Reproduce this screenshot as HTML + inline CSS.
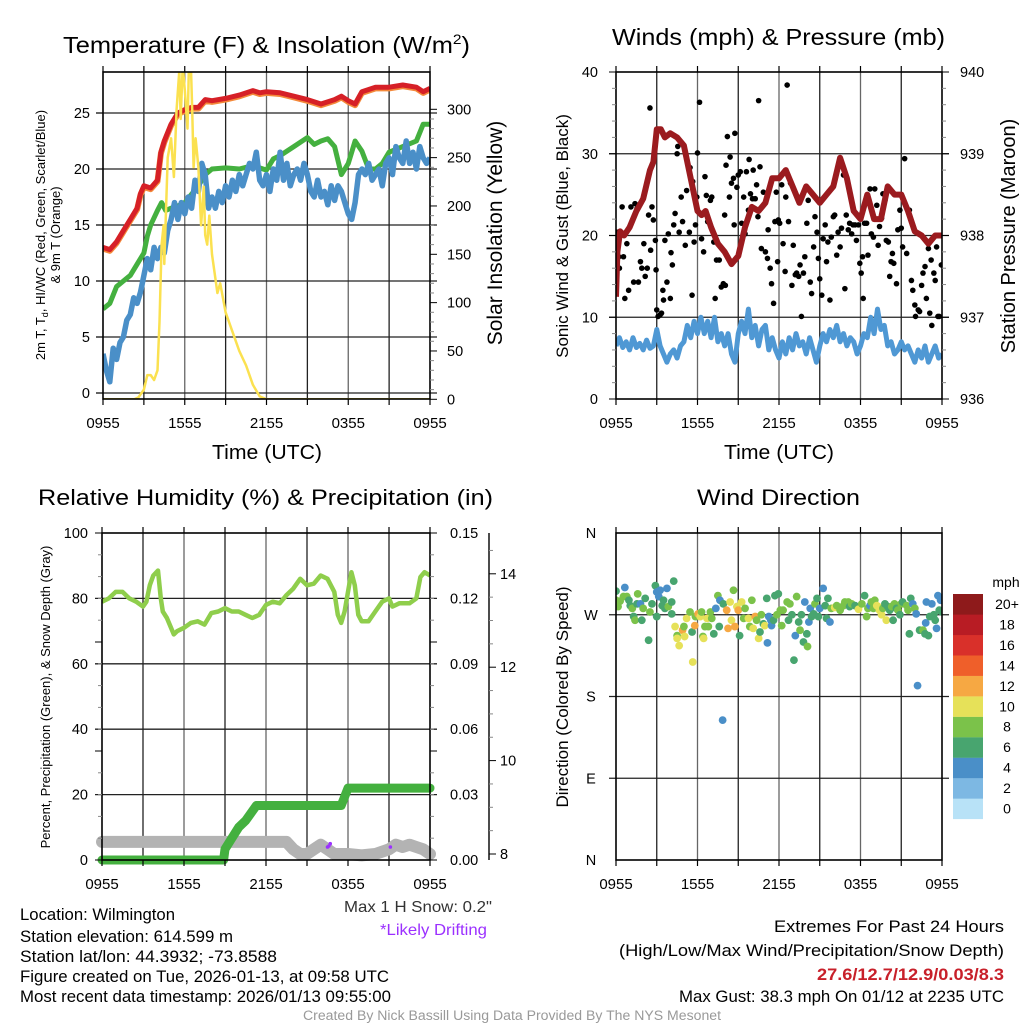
<!DOCTYPE html>
<html><head><meta charset="utf-8"><style>
html,body{margin:0;padding:0;background:#fff;width:1024px;height:1024px;overflow:hidden}
svg{display:block;font-family:"Liberation Sans",Arial,sans-serif}
</style></head><body>
<svg id="root" width="1024" height="1024" viewBox="0 0 1024 1024">
<defs>
<clipPath id="c1"><rect x="103" y="72" width="327" height="327"/></clipPath>
<clipPath id="c2"><rect x="616" y="72" width="326" height="327"/></clipPath>
<clipPath id="c3"><rect x="102" y="533" width="328" height="327"/></clipPath>
<clipPath id="c4"><rect x="616" y="533" width="326" height="327"/></clipPath>
</defs>
<g id="g1"></g>
<g id="g2"></g>
<g id="g3"></g>
<g id="g4"></g>
<g id="txt">
<text x="63" y="53" font-size="23" textLength="407" lengthAdjust="spacingAndGlyphs">Temperature (F) &amp; Insolation (W/m<tspan dy="-9" font-size="14">2</tspan><tspan dy="9">)</tspan></text>
<text x="612" y="45" font-size="23" textLength="333" lengthAdjust="spacingAndGlyphs">Winds (mph) &amp; Pressure (mb)</text>
<text x="38" y="505" font-size="22" textLength="455" lengthAdjust="spacingAndGlyphs">Relative Humidity (%) &amp; Precipitation (in)</text>
<text x="697" y="505" font-size="22" textLength="163" lengthAdjust="spacingAndGlyphs">Wind Direction</text>
<text x="212" y="459" font-size="20" textLength="110" lengthAdjust="spacingAndGlyphs">Time (UTC)</text>
<text x="724" y="459" font-size="20" textLength="110" lengthAdjust="spacingAndGlyphs">Time (UTC)</text>
<text transform="translate(45,235) rotate(-90)" font-size="13" text-anchor="middle">2m T, T<tspan font-size="9" dy="3">d</tspan><tspan dy="-3">, HI/WC (Red, Green, Scarlet/Blue)</tspan></text>
<text transform="translate(60,235) rotate(-90)" font-size="13" text-anchor="middle">&amp; 9m T (Orange)</text>
<text transform="translate(502,233) rotate(-90)" font-size="21" text-anchor="middle">Solar Insolation (Yellow)</text>
<text transform="translate(568,236) rotate(-90)" font-size="17" text-anchor="middle">Sonic Wind &amp; Gust (Blue, Black)</text>
<text transform="translate(1015,236) rotate(-90)" font-size="20" text-anchor="middle">Station Pressure (Maroon)</text>
<text transform="translate(50,697) rotate(-90)" font-size="13" text-anchor="middle">Percent, Precipitation (Green), &amp; Snow Depth (Gray)</text>
<text transform="translate(568,697) rotate(-90)" font-size="17" text-anchor="middle">Direction (Colored By Speed)</text>
<text x="1006" y="587" font-size="14" text-anchor="middle">mph</text>
<text x="344" y="912" font-size="16" fill="#333" textLength="148" lengthAdjust="spacingAndGlyphs">Max 1 H Snow: 0.2"</text>
<text x="380" y="935" font-size="16" fill="#9b30ff" textLength="107" lengthAdjust="spacingAndGlyphs">*Likely Drifting</text>
<g font-size="16.5">
<text x="20" y="920" textLength="155" lengthAdjust="spacingAndGlyphs">Location: Wilmington</text>
<text x="20" y="942" textLength="213" lengthAdjust="spacingAndGlyphs">Station elevation: 614.599 m</text>
<text x="20" y="962" textLength="257" lengthAdjust="spacingAndGlyphs">Station lat/lon: 44.3932; -73.8588</text>
<text x="20" y="982" textLength="369" lengthAdjust="spacingAndGlyphs">Figure created on Tue, 2026-01-13, at 09:58 UTC</text>
<text x="20" y="1002" textLength="371" lengthAdjust="spacingAndGlyphs">Most recent data timestamp: 2026/01/13 09:55:00</text>
</g>
<g font-size="17">
<text x="774" y="932" textLength="230" lengthAdjust="spacingAndGlyphs">Extremes For Past 24 Hours</text>
<text x="619" y="956" textLength="385" lengthAdjust="spacingAndGlyphs">(High/Low/Max Wind/Precipitation/Snow Depth)</text>
<text x="817" y="980" fill="#c8202a" font-weight="bold" textLength="187" lengthAdjust="spacingAndGlyphs">27.6/12.7/12.9/0.03/8.3</text>
<text x="679" y="1002" textLength="325" lengthAdjust="spacingAndGlyphs">Max Gust: 38.3 mph On 01/12 at 2235 UTC</text>
</g>
<text x="303" y="1020" font-size="13.5" fill="#999" textLength="418" lengthAdjust="spacingAndGlyphs">Created By Nick Bassill Using Data Provided By The NYS Mesonet</text>
</g>
</svg>
<script>
// ===== DATA =====
const xTickLabels = ["0955","1555","2155","0355","0955"];
const tempTickLabels = [0,5,10,15,20,25];
const solarTickLabels = [0,50,100,150,200,250,300];
const tempHours = [0,0.5,1,1.5,2,2.5,2.75,3,3.5,4,4.25,4.5,5,5.5,6,6.5,7,7.5,8,9,10,11,11.5,12,13,14,15,16,17,17.5,18,18.5,19,20,21,22,23,23.5,24];
const tempValues = [13,12.8,13.5,14.5,15.5,16.5,17.8,18.5,18.3,19,21.5,22.5,24,25,25.3,25.5,25.5,26.2,26.1,26.3,26.6,27.0,26.8,26.9,26.8,26.5,26.2,25.8,26.2,26.5,26.1,25.8,26.9,27.3,27.3,27.5,27.3,26.9,27.2];
const dewHours = [0,0.5,1,1.5,2,2.5,3,3.25,3.5,4,4.3,4.6,5,5.5,6,7,7.5,8,9,10,11,12,12.5,13,14,15,15.5,16,16.5,17,17.5,18,18.5,19,19.5,20,20.5,21,22,23,23.5,24];
const dewValues = [7.5,8,9.5,10,10.5,11.5,12.5,14,15,16.3,17,16.3,16.5,16.7,17,18.5,19.5,20,20.1,20,20.3,19.9,20.9,21.2,22,22.8,22.2,22.5,22.7,22,19.5,20.5,22.5,21.6,20,20,20.5,21.5,22,22.5,24,24];
const chillValues = [3.5,2,1,4,3,4.5,5,6.5,7,8.5,8,9,10.5,12,11,13,12,13,12.5,14.5,15.5,17,15.5,17,16,17.5,16.5,19,18,20.5,19.5,16.5,17.5,16.5,18,17,18.5,17.5,19,18,19.5,18.5,19.5,20.5,20,21.5,19,18.5,19.5,18,20,19,21.5,19,20.5,18.5,19.5,20,19,20.5,19.5,18,17.5,19,17.5,18,16.8,18.5,17.2,18.5,18,17,16,15.5,17,19.5,20,19.5,20.5,19,19.5,20,18.5,20.5,21,19.5,22,21,20.5,22.5,20.5,21.5,20,22,21,20.5,21];
const solarHours = [0,2.3,2.6,3,3.25,3.5,3.75,4,4.15,4.3,4.45,4.5,4.75,5,5.2,5.4,5.6,5.7,5.85,6,6.2,6.3,6.45,6.55,6.65,6.8,7,7.2,7.4,7.5,7.65,7.8,8,8.2,8.4,8.6,9,9.5,10,10.5,11,11.5,12,24];
const solarValues = [0,0,2,10,25,25,20,30,80,160,180,140,250,270,230,300,340,290,345,320,280,340,345,300,240,270,240,180,220,170,160,190,150,130,110,120,90,70,50,35,15,3,0,0];

const windTickLabels = [0,10,20,30,40];
const pressTickLabels = [936,937,938,939,940];
const windValues = [6.5,7.5,6.3,7,6,7.5,6.3,6.8,6,7.2,6.2,6.5,8.5,6.5,5.5,4.5,5.5,6,5,6.5,7,9,7.5,9.5,8,10,8,9.5,7.5,10,7,8,6.5,8,5.5,4.5,8,9.5,8,11,7.5,9,6.5,8.5,9,6,7.5,6,5,7,5.5,7.5,6,8,6.5,7,5.5,7.5,6,4.5,6.5,8,7,8.5,7.5,9,7,8,6.5,7.5,7,5.5,6.5,8,7.5,10,8,11,8.5,9,6.5,7,5.5,6,7,6,6.5,5.5,4.5,6,5,6.5,4.5,5.5,6.5,5,5.5];
const pressHours = [0,0.1,0.3,0.6,1,1.5,2,2.5,2.75,3,3.3,3.6,4,4.5,5,5.5,6,6.3,6.6,7,7.5,8,8.5,9,9.5,10,10.5,11,11.5,12,12.5,13,13.5,14,14.5,15,15.5,16,16.5,17,17.5,18,18.5,19,19.5,20,20.5,21,21.5,22,22.5,23,23.5,24];
const pressValues = [937.25,937.8,938.05,938.0,938.1,938.3,938.45,938.8,938.9,939.3,939.3,939.2,939.25,939.2,939.1,938.7,938.3,938.25,938.3,938.1,937.9,937.8,937.65,937.75,938.1,938.35,938.3,938.4,938.7,938.7,938.8,938.6,938.4,938.6,938.5,938.4,938.5,938.6,938.95,938.7,938.3,938.2,938.5,938.2,938.2,938.6,938.5,938.5,938.3,938.05,938.0,937.9,938.0,938.0];
const gustHours = [0.07,0.2,0.25,0.45,0.55,0.65,0.8,0.93,1.1,1.3,1.4,1.55,1.65,1.8,1.9,2.05,2.15,2.3,2.4,2.5,2.65,2.75,2.55,2.9,2.95,3.0,3.1,3.25,3.35,3.45,3.5,3.6,3.75,3.85,4.0,4.05,4.15,4.25,4.35,4.5,4.55,4.65,4.8,4.9,5.1,5.2,5.4,5.45,5.6,5.65,5.75,5.85,5.95,6.0,6.15,6.3,6.45,6.55,6.65,6.75,6.95,7.05,7.2,7.3,7.4,7.6,7.75,7.9,8.05,8.0,8.1,8.2,8.35,8.4,8.5,8.65,8.7,8.75,8.9,9.0,9.15,9.25,9.4,9.5,9.6,9.75,9.8,9.9,10.05,10.1,10.25,10.35,10.45,10.5,10.6,10.7,10.85,11.0,11.15,11.2,11.35,11.45,11.6,11.7,11.8,11.9,11.95,12.05,12.2,12.3,12.45,12.5,12.6,12.7,12.85,12.95,13.05,13.2,13.3,13.45,13.55,13.65,13.8,13.9,14.05,14.15,14.3,14.4,14.55,14.65,14.8,14.9,15.0,15.15,15.25,15.4,15.5,15.6,15.75,15.85,16.0,16.1,16.25,16.35,16.5,16.6,16.75,16.85,16.95,17.1,17.2,17.35,17.45,17.6,17.7,17.85,17.95,18.05,18.15,18.2,18.3,18.45,18.55,18.7,18.8,18.95,19.05,19.2,19.3,19.4,19.55,19.65,19.8,19.9,20.05,20.15,20.25,20.35,20.45,20.65,20.75,20.9,21.0,21.1,21.25,21.4,21.5,21.6,21.75,21.85,22.0,22.05,22.25,22.35,22.5,22.6,22.75,22.85,23.0,23.1,23.2,23.25,23.4,23.5,23.6,23.7,23.8,23.95];
const gustValues = [20.4,17.4,16,23.5,17.4,12.3,19,13.3,23.5,14.3,23.9,23.3,14.3,16.8,16,19,15,16,22.5,35.6,23.5,21.9,18.2,19.4,15.8,10.9,10.1,10.3,10.5,13.3,12.1,19.4,14.3,20.2,12.3,17.9,16.4,21.3,22.7,30,30.9,20.4,24.7,21.7,18.8,25.5,20.4,28.3,12.7,26.6,19.2,21.3,24.7,30.1,36.3,19.6,18,27.2,24.9,21.7,24.3,24.7,19.2,12.3,17,17,13.7,14.1,13.9,22.5,28.6,32.1,24.7,29.6,26.4,27,21.3,32.5,25.9,27.4,27.8,21.5,24.7,20.2,27.8,23.1,29.3,25.1,24.5,28,24.5,26.2,22.3,36.5,28.4,18.4,25.3,18,17.2,20.7,16,14.1,11.7,21.7,25.3,16.8,21.9,21.5,26.2,19,15.6,24.7,38.4,21.7,26.4,13.9,18.8,15.2,15.4,15,16.4,10.1,15.4,17.4,21.5,24.3,14.3,12.9,18.6,22.3,20.4,17.2,14.7,12.7,19.6,21.3,16.8,19.2,12.1,19.8,22.3,22.5,17.6,20.4,18.6,20.9,27.4,13.5,22.5,20.7,21.5,20.2,21.3,21.3,19.4,21.3,16.6,15.4,17.4,12.3,21.5,21.5,17.6,25.7,20.2,19.8,25.7,23.7,18.8,21.1,22.1,25.1,24.3,19.4,19.2,15,16.8,17.8,16.6,14.1,20.7,23.1,20.9,18.6,29.4,17.8,23.1,23.1,14.5,13.3,11.5,10.1,10.9,10.7,13.9,15.4,16.2,12.3,18.4,10.5,17,9,15.4,14.5,18.6,10.1,10.1,16.4];

const rhTickLabels = [0,20,40,60,80,100];
const precipTickLabels = ["0.00","0.03","0.06","0.09","0.12","0.15"];
const snowTickLabels = [8,10,12,14];
const rhHours = [0,0.5,1,1.5,2,2.5,3,3.25,3.5,3.75,4.1,4.3,4.45,4.75,5.25,5.5,6,6.5,7,7.5,8,8.5,9,9.5,10,10.5,11,11.5,12,12.5,13,13.5,14,14.5,15,15.5,16,16.5,17,17.25,17.5,17.75,18,18.25,18.5,18.75,19,19.5,20,20.5,21,21.25,21.75,22.5,23,23.3,23.6,24];
const rhValues = [79,80,82,82,80,79,77.5,79,84,87,88.5,80,76,74,69,70,71,72.5,73,72,75.5,76,77,76,76,75,74,75,78,79,78.5,81,83,86,84,84.5,87,86,82,75,72.5,76,82,88,84,75,73,73,76,79,80,77.5,78.5,78.5,80,86.5,88,87];
const precipHours = [0,8.9,9,9.5,10,10.5,11.3,17.5,18,24];
const precipValues = [0,0,0.005,0.010,0.015,0.018,0.025,0.025,0.033,0.033];
const snowHours = [0,13.5,14,14.5,15,15.5,16,16.5,17,18,19,20,21,21.5,22,22.5,23,23.5,24];
const snowValues = [8.26,8.26,8.1,8.0,8.0,8.1,8.2,8.1,8.0,8.0,7.97,8.0,8.1,8.2,8.15,8.2,8.15,8.1,8.0];
const driftHours = [16.5,16.6,16.7,21.1];
const driftValues = [8.15,8.17,8.22,8.15];

const dirTickLabels = ["N","E","S","W","N"];
const dirHours = [0,0,0.15,0.3,0.65,0.55,0.8,0.95,1.05,1.2,1.3,1.4,1.6,1.55,1.8,1.9,2.0,2.15,2.4,2.5,2.65,2.9,3.0,3.15,3.0,3.25,3.4,3.5,3.75,3.6,3.85,4.1,4.25,4.1,4.35,4.5,4.5,4.65,4.9,5.05,5.0,5.2,5.45,5.6,5.65,5.8,5.85,6.05,6.2,6.3,6.4,6.45,6.55,6.7,6.8,6.95,7.05,7.2,7.35,7.5,7.6,7.65,7.9,8.15,8.25,8.4,8.5,8.65,8.75,8.9,9.0,9.1,9.25,9.4,9.5,9.75,9.85,10.0,10.1,10.25,10.35,10.5,10.6,10.7,10.85,10.95,11.1,11.15,11.25,11.4,11.45,11.6,11.7,11.85,11.95,12.1,12.2,12.3,12.6,12.7,12.8,12.95,13.1,13.2,13.3,13.45,13.55,13.65,13.8,13.9,14.05,14.1,14.2,14.3,14.4,14.55,14.65,14.8,14.9,15.0,15.25,15.4,15.5,15.6,15.75,15.85,16.1,16.25,16.5,16.75,16.85,17.1,17.2,17.35,17.6,17.85,18.1,18.3,18.45,18.55,18.7,18.8,18.95,19.05,19.2,19.3,19.4,19.55,19.65,19.8,19.9,20.0,20.15,20.3,20.4,20.5,20.65,20.75,20.9,21.0,21.1,21.4,21.5,21.6,21.7,21.85,22.0,22.1,22.2,22.35,22.6,22.75,22.85,22.8,23.0,23.1,23.25,23.4,23.5,23.6,23.7,23.8,23.9,24.0,7.85];
const dirValues = [296,286,279,285,300,290,290,286,280,277,268,264,293,282,282,264,277,288,242,273,282,302,295,290,268,297,280,286,299,277,279,284,307,271,257,247,244,236,253,246,257,266,273,251,218,258,268,271,268,273,246,244,257,266,257,273,266,249,277,291,257,286,282,275,255,284,264,297,257,279,275,247,284,266,277,266,257,286,255,268,264,244,251,270,260,258,288,239,268,264,258,264,291,270,293,275,258,275,284,264,282,270,220,247,290,262,253,270,240,284,249,235,262,277,268,271,282,288,268,277,299,280,266,288,262,277,278,280,275,280,284,284,279,282,280,276,282,291,268,277,280,284,277,286,280,279,275,270,277,282,264,279,275,279,264,282,277,275,270,282,284,280,275,249,288,282,277,271,192,253,253,249,284,261,247,268,282,270,264,255,291,275,286,273,154];
const dirSpeeds = [6,8,8,8,4,8,8,7,6,8,6,8,8,6,4,6,8,6,6,8,6,6,4,4,6,4,6,6,4,6,8,6,6,6,10,8,10,10,12,10,8,10,8,6,10,12,8,12,10,8,8,10,8,10,8,8,8,6,4,8,6,4,6,12,12,10,10,8,12,10,12,6,10,8,8,10,8,8,10,12,8,10,6,8,6,10,6,4,4,4,4,6,6,8,6,8,8,8,8,6,8,6,6,4,8,6,8,6,6,4,6,8,4,4,6,6,8,6,6,4,4,6,6,6,4,8,10,8,8,8,8,8,6,8,6,10,8,6,8,8,4,8,8,8,10,10,10,10,8,6,10,6,6,8,6,8,6,8,6,8,6,8,8,6,6,4,8,4,4,6,8,6,4,4,6,6,4,6,6,4,4,6,4,6,4];
const speedBinLabels = ["0","2","4","6","8","10","12","14","16","18","20+"];

// ===== HELPERS =====
const NS="http://www.w3.org/2000/svg";
function mk(parent, tag, attrs, txt){const e=document.createElementNS(NS,tag);for(const k in attrs)e.setAttribute(k,attrs[k]);if(txt!==undefined)e.textContent=txt;parent.appendChild(e);return e;}
function pathD(xs,ys,fx,fy){return xs.map((h,i)=>(i?"L":"M")+fx(h).toFixed(1)+","+fy(ys[i]).toFixed(1)).join("");}
function stepHours(n){const a=[];for(let i=0;i<n;i++)a.push(i*24/(n-1));return a;}

function frame(g,L,T,W,H,yTicks,yfn){
  for(let i=1;i<8;i++){const x=L+W*i/8;
    const gl=mk(g,"line",{x1:x,y1:T,x2:x,y2:T+H,stroke:i%2?"#222":"#666","stroke-width":1.3});
    
    
  }
  yTicks.forEach(v=>{const y=yfn(v);if(y>T+2&&y<T+H-1){
    const hl=mk(g,"line",{x1:L-7,y1:y,x2:L+W+7,y2:y,stroke:"#222","stroke-width":1.3});
    
    
  }});
}
function border(g,L,T,W,H){
  const r=mk(g,"rect",{x:L,y:T,width:W,height:H,fill:"none",stroke:"#000","stroke-width":1.6});
  
  
  for(let i=0;i<=8;i++){const x=L+W*i/8;
    const t=mk(g,"line",{x1:x,y1:T+H,x2:x,y2:T+H+6,stroke:"#000","stroke-width":1.2});
    
    
    const t2=mk(g,"line",{x1:x,y1:T,x2:x,y2:T-6,stroke:"#000","stroke-width":1.2});
    
    
  }
  xTickLabels.forEach((s,i)=>{
    const t=mk(g,"text",{x:L+W*i/4,y:T+H+29,"font-size":15,"text-anchor":"middle"},s);
    
    
  });
}
function yLabels(g,vals,fn,x,anchor,fmt){
  vals.forEach(v=>{
    const t=mk(g,"text",{x:x,y:fn(v)+5,"font-size":14.5,"text-anchor":anchor},fmt?fmt(v):v);
    
    
  });
}
function minorTicks(g,x,y0,y1,n,dir){
  for(let i=0;i<=n;i++){const y=y0+(y1-y0)*i/n;
    const t=mk(g,"line",{x1:x,y1:y,x2:x+dir*(i%5?4:7),y2:y,stroke:i%5?"#888":"#000","stroke-width":1});
    
    
  }
}

// ===== PANEL 1 =====
(function(){
const g=document.getElementById("g1");
const L=103,T=72,W=327,H=327;
const x=h=>L+h*W/24, yT=v=>393-v*11.2, yS=w=>399.3-w*(290/300);
frame(g,L,T,W,H,tempTickLabels,yT);
const c=mk(g,"g",{"clip-path":"url(#c1)"});


const nine=mk(c,"path",{d:pathD(tempHours,tempValues,x,v=>yT(v)+1.2),fill:"none",stroke:"#f4893a","stroke-width":6,"stroke-linejoin":"round","stroke-linecap":"round"});


const red=mk(c,"path",{d:pathD(tempHours,tempValues,x,yT),fill:"none",stroke:"#d62027","stroke-width":5,"stroke-linejoin":"round"});


const grn=mk(c,"path",{d:pathD(dewHours,dewValues,x,yT),fill:"none",stroke:"#44b03f","stroke-width":5,"stroke-linejoin":"round"});


const blu=mk(c,"path",{d:pathD(stepHours(chillValues.length),chillValues,x,yT),fill:"none",stroke:"#4a8fc8","stroke-width":5.5,"stroke-linejoin":"round"});


const yel=mk(c,"path",{d:pathD(solarHours,solarValues,x,yS),fill:"none",stroke:"#fbe150","stroke-width":2.5,"stroke-linejoin":"round"});


border(g,L,T,W,H);
tempTickLabels.forEach(v=>{const t=mk(g,"line",{x1:L-7,y1:yT(v),x2:L,y2:yT(v),stroke:"#000"});

});
yLabels(g,tempTickLabels,yT,90,"end");
minorTicks(g,L+W,yS(0),yS(300),30,1);
yLabels(g,solarTickLabels,yS,447,"start");
})();

// ===== PANEL 2 =====
(function(){
const g=document.getElementById("g2");
const L=616,T=72,W=326,H=327;
const x=h=>L+h*W/24, yW=v=>399-v*8.175, yP=p=>399-(p-936)*81.75;
frame(g,L,T,W,H,windTickLabels,yW);
const c=mk(g,"g",{"clip-path":"url(#c2)"});


const wl=mk(c,"path",{d:pathD(stepHours(windValues.length),windValues,x,yW),fill:"none",stroke:"#4f98d4","stroke-width":5,"stroke-linejoin":"round"});


gustHours.forEach((h,i)=>{
  const d=mk(c,"circle",{cx:x(h),cy:yW(gustValues[i]),r:2.8,fill:"#000"});
  
  
});
const pl=mk(c,"path",{d:pathD(pressHours,pressValues,x,yP),fill:"none",stroke:"#9b1b1f","stroke-width":6,"stroke-linejoin":"round"});


border(g,L,T,W,H);
minorTicks(g,L,yW(0),yW(40),20,-1);
yLabels(g,windTickLabels,yW,598,"end");
minorTicks(g,L+W,yP(936),yP(940),20,1);
yLabels(g,pressTickLabels,yP,960,"start");
})();

// ===== PANEL 3 =====
(function(){
const g=document.getElementById("g3");
const L=102,T=533,W=328,H=327;
const x=h=>L+h*W/24, yR=v=>860-v*3.27, yPr=p=>860-p*2180, ySn=s=>854-(s-8)*46.7;
frame(g,L,T,W,H,rhTickLabels,yR);
const c=mk(g,"g",{"clip-path":"url(#c3)"});


const sn=mk(g,"path",{d:pathD(snowHours,snowValues,x,ySn),fill:"none",stroke:"#b3b3b3","stroke-width":12,"stroke-linejoin":"round","stroke-linecap":"round"});


const pr=mk(g,"path",{d:pathD(precipHours,precipValues,x,yPr),fill:"none",stroke:"#44b03f","stroke-width":9,"stroke-linejoin":"round","stroke-linecap":"round"});


driftHours.forEach((h,i)=>{
  const d=mk(g,"circle",{cx:x(h),cy:ySn(driftValues[i]),r:1.8,fill:"#9b30ff"});
  
  
});
const rh=mk(c,"path",{d:pathD(rhHours,rhValues,x,yR),fill:"none",stroke:"#8fce4c","stroke-width":4.5,"stroke-linejoin":"round"});


border(g,L,T,W,H);
minorTicks(g,L,yR(0),yR(100),15,-1);
yLabels(g,rhTickLabels,yR,88,"end");
minorTicks(g,L+W,yPr(0),yPr(0.15),15,1);
yLabels(g,precipTickLabels.map(Number),yPr,450,"start",v=>v.toFixed(2));
const ax=mk(g,"line",{x1:489,y1:533,x2:489,y2:860,stroke:"#000","stroke-width":1.4});


for(let s=8;s<=14.9;s+=0.5){const y=ySn(s);const mj=Math.abs(s-Math.round(s))<0.01&&Math.round(s)%2===0;
  const t=mk(g,"line",{x1:489,y1:y,x2:489+(mj?7:4),y2:y,stroke:mj?"#000":"#888"});
  
  }
yLabels(g,snowTickLabels,ySn,500,"start");
})();

// ===== PANEL 4 =====
(function(){
const g=document.getElementById("g4");
const L=616,T=533,W=326,H=327;
const x=h=>L+h*W/24, yD=d=>860-d*327/360;
const dirTicks=[0,90,180,270,360];
frame(g,L,T,W,H,dirTicks,yD);
const colors=["#b8e2f7","#7db8e3","#4a8fc8","#48a56f","#7bc24a","#e6e159","#f6a843","#ef5f2a","#d9302a","#b81c24","#8e1a1b"];
const c=mk(g,"g",{"clip-path":"url(#c4)"});


dirHours.forEach((h,i)=>{
  const b=Math.min(10,Math.floor(dirSpeeds[i]/2));
  const d=mk(c,"circle",{cx:x(h),cy:yD(dirValues[i]),r:3.9,fill:colors[b]});
  
  
});
border(g,L,T,W,H);
dirTicks.forEach((d,i)=>{
  const t=mk(g,"text",{x:591,y:yD(d)+5,"font-size":14.5,"text-anchor":"middle"},dirTickLabels[i]);
  
  
});
speedBinLabels.forEach((s,i)=>{
  const y=594+(10-i)*20.45;
  const r=mk(g,"rect",{x:953,y:y,width:30,height:20.6,fill:colors[i]});
  
  
  const t=mk(g,"text",{x:1007,y:y+15,"font-size":14,"text-anchor":"middle"},s);
  
  
});
})();
</script>
</body></html>
